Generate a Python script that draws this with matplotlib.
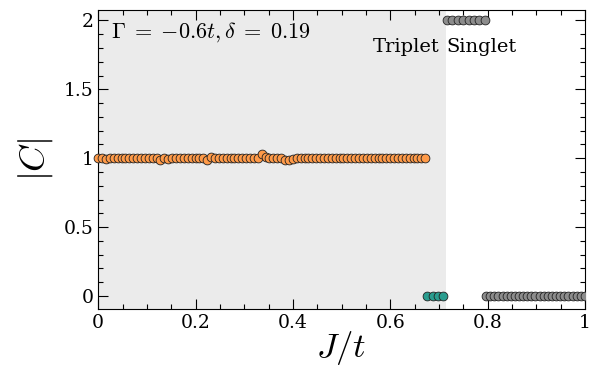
import numpy as np
import matplotlib
matplotlib.use("Agg")
import matplotlib.pyplot as plt
from matplotlib.ticker import MultipleLocator

# ---- data ----
orange_x = np.round(np.arange(0.0, 0.6721, 0.008), 4).tolist()
orange_y = [1.0, 1.0, 0.995, 1.0, 1.0, 1.0, 1.0, 1.0, 1.0, 1.0,
            1.0, 1.0, 1.0, 1.0, 1.0, 1.0, 0.99, 1.0, 0.995, 1.0,
            1.0, 1.0, 1.0, 1.0, 1.0, 1.0, 1.0, 1.0, 0.985, 1.005,
            1.0, 1.0, 1.0, 1.0, 1.0, 1.0, 1.0, 1.0, 1.0, 1.0,
            1.0, 1.0, 1.03, 1.005, 1.0, 1.0, 1.0, 1.0, 0.99, 0.985,
            0.995, 1.0, 1.0, 1.0, 1.0, 1.0, 1.0, 1.0, 1.0, 1.0,
            1.0, 1.0, 1.0, 1.0, 1.0, 1.0, 1.0, 1.0, 1.0, 1.0,
            1.0, 1.0, 1.0, 1.0, 1.0, 1.0, 1.0, 1.0, 1.0, 1.0,
            1.0, 1.0, 1.0, 1.0, 1.0]
teal_x = [0.676, 0.687, 0.698, 0.709]
teal_y = [0.0, 0.0, 0.0, 0.0]
gray_top_x = [0.717, 0.728, 0.739, 0.750, 0.761, 0.772, 0.783, 0.794]
gray_top_y = [2.0] * 8
gray_bot_x = np.round(np.linspace(0.797, 1.0, 25), 4).tolist()
gray_bot_y = [0.0] * 25
shade_end = 0.714

plt.rcParams['mathtext.fontset'] = 'cm'
plt.rcParams['font.family'] = 'DejaVu Serif'

fig = plt.figure(figsize=(5.95, 3.75), dpi=100)
ax = fig.add_axes([0.165, 0.176, 0.818, 0.797])

ax.axvspan(0, shade_end, color='#ebebeb', zorder=0, lw=0)

kw = dict(s=40, edgecolors='#222222', linewidths=0.6, zorder=3, clip_on=False)
ax.scatter(orange_x, orange_y[:len(orange_x)], c='#ff9a48', **kw)
ax.scatter(teal_x, teal_y, c='#2a9d8f', **kw)
ax.scatter(gray_top_x, gray_top_y, c='#8c8c8c', **kw)
ax.scatter(gray_bot_x, gray_bot_y, c='#8c8c8c', zorder=3, s=40,
           edgecolors='#222222', linewidths=0.6, clip_on=True)

ax.set_xlim(0, 1)
ax.set_ylim(-0.095, 2.075)
ax.xaxis.set_minor_locator(MultipleLocator(0.05))
ax.yaxis.set_minor_locator(MultipleLocator(0.1))
ax.set_xticks([0, 0.2, 0.4, 0.6, 0.8, 1.0])
ax.set_xticklabels(['0', '0.2', '0.4', '0.6', '0.8', '1'])
ax.set_yticks([0, 0.5, 1, 1.5, 2])
ax.set_yticklabels(['0', '0.5', '1', '1.5', '2'])
ax.tick_params(which='both', direction='in', top=True, right=True, labelsize=13.5)
ax.tick_params(which='major', length=7, width=0.8)
ax.tick_params(which='minor', length=3.5, width=0.8)

ax.set_xlabel(r'$J/t$', fontsize=25, labelpad=-2)
ax.set_ylabel(r'$|C|$', fontsize=26, labelpad=6)

ax.text(0.026, 0.965, r'$\Gamma\;{=}\;{-}0.6t, \delta\;{=}\;0.19$', transform=ax.transAxes,
        fontsize=16, va='top', ha='left')
ax.text(0.564, 0.876, 'Triplet', transform=ax.transAxes, fontsize=14,
        ha='left', va='center')
ax.text(0.716, 0.876, 'Singlet', transform=ax.transAxes, fontsize=14,
        ha='left', va='center')

fig.savefig('out.png', dpi=100)
